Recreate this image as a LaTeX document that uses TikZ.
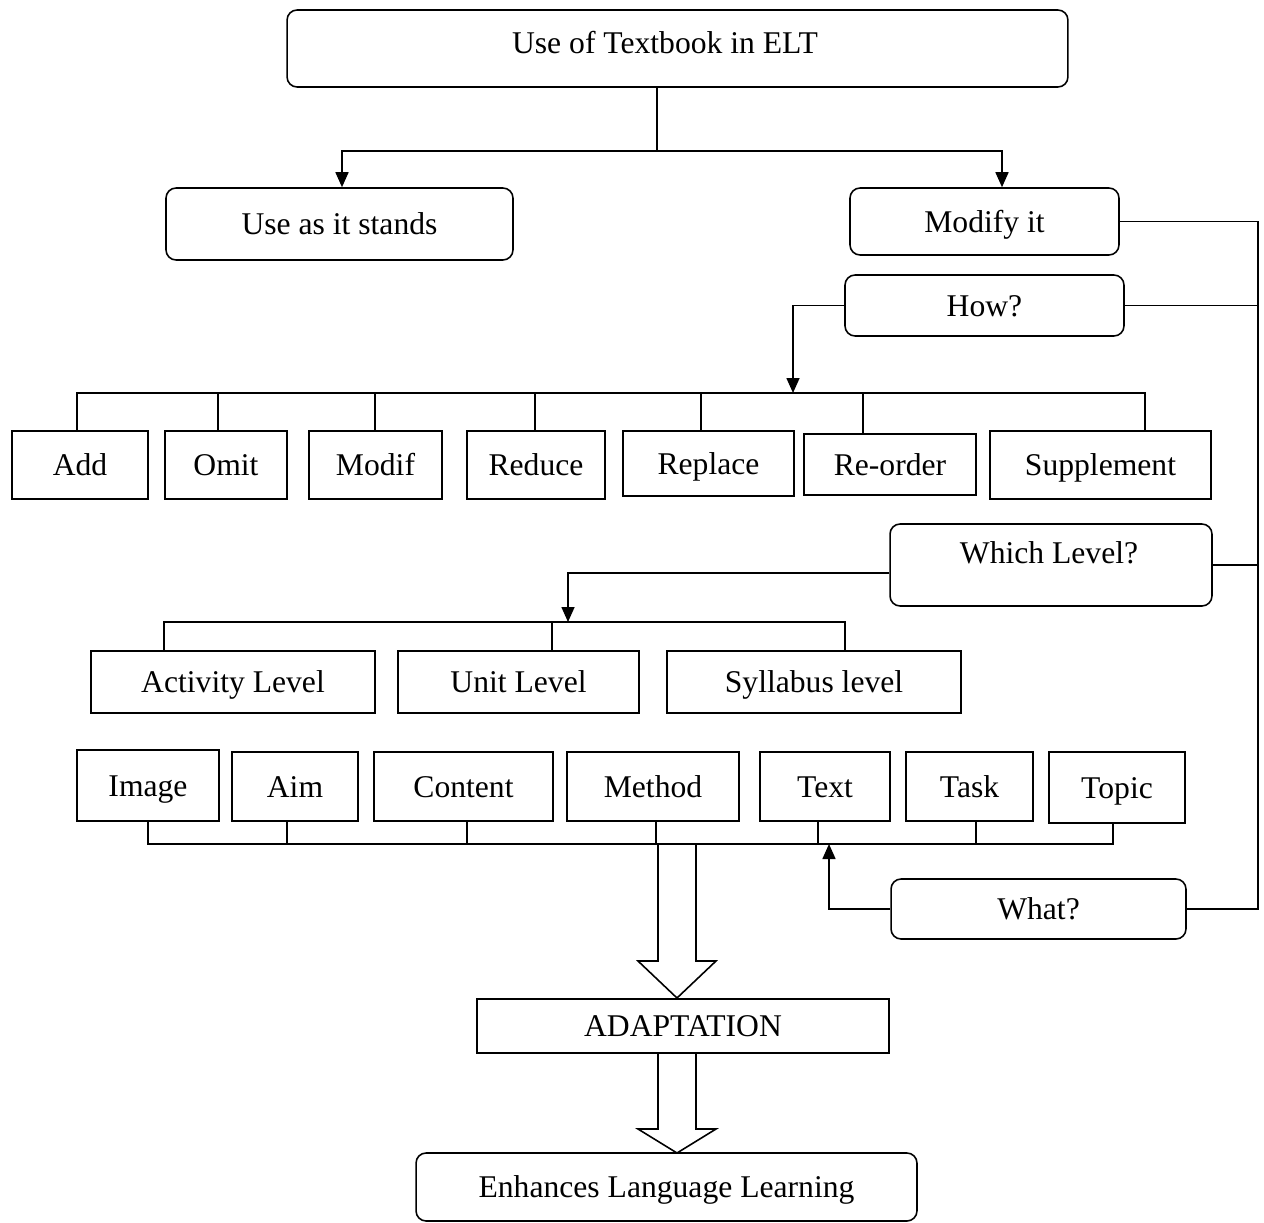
\documentclass[tikz,border=0pt]{standalone}
\usepackage{fontspec}
\setmainfont{Liberation Serif}
\usetikzlibrary{arrows.meta}
\begin{document}
\begin{tikzpicture}[x=0.02cm,y=-0.02cm,
  every node/.style={font=\fontsize{18}{22}\selectfont, text height=12pt, text depth=0pt},
  sq/.style={draw, line width=0.9pt, inner sep=0pt},
  rb/.style={sq, rounded corners=0.2cm},
  sz/.style 2 args={minimum width=#1cm, minimum height=#2cm},
  ln/.style={line width=0.9pt},
  arr/.style={ln, -{Triangle[length=0.3cm,width=0.26cm]}},
  hollow/.style={line width=0.9pt, fill=white, line join=miter}]
\useasboundingbox (0,0) rectangle (1264,1223);

% top level
\node[rb, sz={15.62}{1.54}] (top) at (677.5,48.5) {};
\node (topt) at (665,43) {Use of Textbook in ELT};
\node[rb, sz={6.94}{1.44}] (use) at (339.5,224) {Use as it stands};
\node[rb, sz={5.38}{1.34}] (mod) at (984.5,221.5) {Modify it};
\node[rb, sz={5.58}{1.22}] (how) at (984.5,305.5) {How?};

% how row
\node[sq, sz={2.72}{1.36}] (add) at (80,465) {Add};
\node[sq, sz={2.44}{1.36}] (omit) at (226,465) {Omit};
\node[sq, sz={2.66}{1.36}] (modif) at (375.5,465) {Modif};
\node[sq, sz={2.76}{1.36}] (reduce) at (536,465) {Reduce};
\node[sq, sz={3.42}{1.30}] (replace) at (708.5,463.5) {Replace};
\node[sq, sz={3.44}{1.22}] (reorder) at (890,464.5) {Re-order};
\node[sq, sz={4.42}{1.36}] (supp) at (1100.5,465) {Supplement};

% which level
\node[rb, sz={6.44}{1.64}] (which) at (1051,565) {};
\node (whicht) at (1049,553) {Which Level?};
\node[sq, sz={5.68}{1.24}] (act) at (233,682) {Activity Level};
\node[sq, sz={4.82}{1.24}] (unit) at (518.5,682) {Unit Level};
\node[sq, sz={5.88}{1.24}] (syl) at (814,682) {Syllabus level};

% what row
\node[sq, sz={2.84}{1.42}] (img) at (148,785.5) {Image};
\node[sq, sz={2.52}{1.38}] (aim) at (295,786.5) {Aim};
\node[sq, sz={3.58}{1.38}] (cont) at (463.5,786.5) {Content};
\node[sq, sz={3.44}{1.38}] (meth) at (653,786.5) {Method};
\node[sq, sz={2.60}{1.38}] (txt) at (825,786.5) {Text};
\node[sq, sz={2.54}{1.38}] (task) at (969.5,786.5) {Task};
\node[sq, sz={2.72}{1.42}] (topic) at (1117,787.5) {Topic};
\node[rb, sz={5.90}{1.20}] (what) at (1038.5,909) {What?};

% bottom
\node[sq, sz={8.24}{1.08}] (adapt) at (683,1026) {ADAPTATION};
\node[rb, sz={10.02}{1.36}] (enh) at (666.5,1187) {Enhances Language Learning};

% connectors: top split
\coordinate (j1) at (657,151);
\draw[ln] (top.south -| j1) -- (j1);
\draw[arr] (j1) -| (342,0 |- use.north);
\draw[arr] (j1) -| (1002,0 |- mod.north);

% right spine
\coordinate (sp) at (1258,0);
\draw[ln] (mod.east) -| (sp |- what.east) -- (what.east);
\draw[ln] (how.east) -- (sp |- how.east);
\draw[ln] (which.east) -- (sp |- which.east);

% how -> bus
\coordinate (b1) at (793,393);
\draw[arr] (how.west) -| (b1);
\draw[ln] (77,0 |- add.north) |- (1145,393) -- (1145,0 |- supp.north);
\foreach \x/\n in {218/omit,375/modif,535/reduce,701/replace,863/reorder}
  \draw[ln] (\x,393) -- (\x,0 |- \n.north);

% which -> levels
\coordinate (b2) at (568,622);
\draw[arr] (which.west |- 0,573) -| (b2);
\draw[ln] (164,0 |- act.north) |- (845,622) -- (845,0 |- syl.north);
\draw[ln] (552,622) -- (552,0 |- unit.north);

% what bus
\draw[ln] (148,0 |- img.south) |- (1113,844) -- (1113,0 |- topic.south);
\foreach \x/\n in {287/aim,467/cont,656/meth,818/txt,976/task}
  \draw[ln] (\x,844) -- (\x,0 |- \n.south);
\draw[arr] (what.west) -| (829,844);

% hollow arrows
\draw[hollow] (658,844) -- (658,961) -- (638,961) -- (677,998) -- (716,961) -- (696,961) -- (696,844) -- cycle;
\draw[hollow] (658,1053) -- (658,1129) -- (638,1129) -- (677,1153) -- (716,1129) -- (696,1129) -- (696,1053) -- cycle;
\end{tikzpicture}
\end{document}
